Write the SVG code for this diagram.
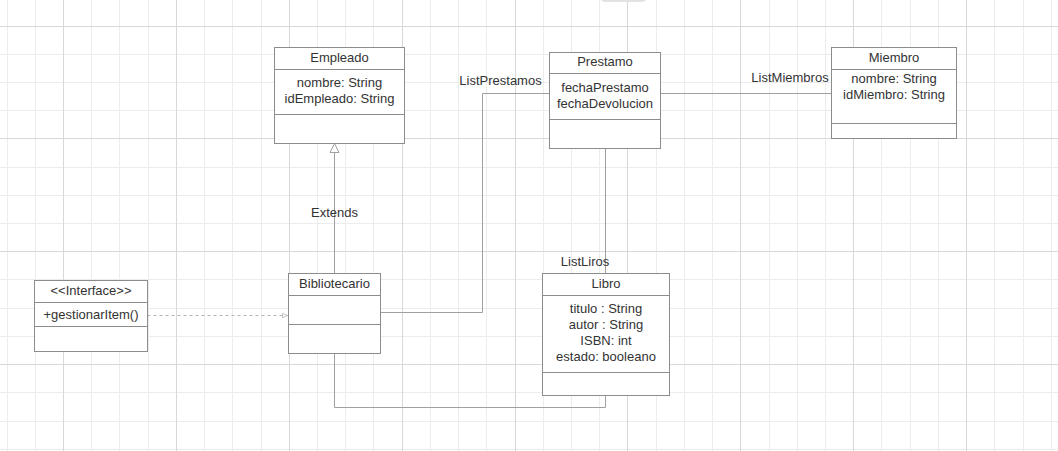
<svg xmlns="http://www.w3.org/2000/svg" width="1058" height="451" viewBox="0 0 1058 451">
<style>
.t{font-family:"Liberation Sans",Arial,Helvetica,sans-serif;font-size:13px;fill:#333333;text-anchor:middle}
.box{fill:#ffffff;stroke:#8c8c8c;stroke-width:1}
.sep{stroke:#8c8c8c;stroke-width:1;fill:none}
.con{fill:none;stroke:#a0a0a0;stroke-width:1}
.dash{fill:none;stroke:#b4b4b4;stroke-width:1;stroke-dasharray:3 3}
.gmin{stroke:#ececec;stroke-width:1;fill:none}
.gmaj{stroke:#d8d8d8;stroke-width:1;fill:none}
</style>
<defs>
<marker id="openArrow" viewBox="0 0 6 6" refX="6" refY="3" markerWidth="6" markerHeight="6" markerUnits="userSpaceOnUse" orient="auto">
<path d="M0.5,0.8 L5.5,3 L0.5,5.2 Z" fill="#ffffff" stroke="#b4b4b4" stroke-width="0.8"/>
</marker>
</defs>
<rect width="1058" height="451" fill="#ffffff"/>
<g id="grid" shape-rendering="crispEdges">
<path class="gmin" d="M7.1 0V451M35.32 0V451M91.76 0V451M119.98 0V451M148.2 0V451M204.64 0V451M232.86 0V451M261.08 0V451M317.52 0V451M345.74 0V451M373.96 0V451M430.4 0V451M458.62 0V451M486.84 0V451M543.28 0V451M571.5 0V451M599.72 0V451M656.16 0V451M684.38 0V451M712.6 0V451M769.04 0V451M797.26 0V451M825.48 0V451M881.92 0V451M910.14 0V451M938.36 0V451M994.8 0V451M1023.02 0V451M1051.24 0V451M0 54.22H1058M0 82.44H1058M0 110.66H1058M0 167.1H1058M0 195.32H1058M0 223.54H1058M0 279.98H1058M0 308.2H1058M0 336.42H1058M0 392.86H1058M0 421.08H1058M0 449.3H1058"/>
<path class="gmaj" d="M63.54 0V451M176.42 0V451M289.3 0V451M402.18 0V451M515.06 0V451M627.94 0V451M740.82 0V451M853.7 0V451M966.58 0V451M0 26H1058M0 138.88H1058M0 251.76H1058M0 364.64H1058"/>
</g>
<rect x="601" y="-6" width="45" height="8" rx="4" fill="#e2e2e2"/>
<g id="connectors">
<path id="extends" class="con" d="M334.5 273.5V152.5"/>
<polygon points="334.5,143.5 339,152.5 330,152.5" fill="#ffffff" stroke="#a0a0a0" stroke-width="1"/>
<text class="t" x="334.5" y="217">Extends</text>
<path id="realiza" class="dash" d="M147.5 315.5H288" marker-end="url(#openArrow)"/>
<path id="listPrestamos" class="con" d="M380.5 312.5H482.5V93.5H549.5"/>
<text class="t" x="500.5" y="85">ListPrestamos</text>
<path id="listMiembros" class="con" d="M660.5 93.5H831.5"/>
<text class="t" x="790" y="82">ListMiembros</text>
<path id="listLibros" class="con" d="M605.5 148.5V273.5"/>
<text class="t" x="585" y="266">ListLiros</text>
<path id="bibLibro" class="con" d="M334.5 353.5V407.5H605.5V395.5"/>
</g>
<g id="Empleado">
<rect class="box" x="274.5" y="47.5" width="130" height="96"/>
<path class="sep" d="M274.5 69.5H404.5M274.5 114.5H404.5"/>
<text class="t" x="339.5" y="62">Empleado</text>
<text class="t" x="339.5" y="87">nombre: String</text>
<text class="t" x="339.5" y="103">idEmpleado: String</text>
</g>
<g id="Prestamo">
<rect class="box" x="549.5" y="52.5" width="111" height="96"/>
<path class="sep" d="M549.5 73.5H660.5M549.5 119.5H660.5"/>
<text class="t" x="605" y="66">Prestamo</text>
<text class="t" x="605" y="91.5">fechaPrestamo</text>
<text class="t" x="605" y="107.5">fechaDevolucion</text>
</g>
<g id="Miembro">
<rect class="box" x="831.5" y="47.5" width="125" height="91"/>
<path class="sep" d="M831.5 69.5H956.5M831.5 123.5H956.5"/>
<text class="t" x="894" y="62">Miembro</text>
<text class="t" x="894" y="83">nombre: String</text>
<text class="t" x="894" y="99">idMiembro: String</text>
</g>
<g id="Interface">
<rect class="box" x="34.5" y="280.5" width="113" height="71"/>
<path class="sep" d="M34.5 302.5H147.5M34.5 326.5H147.5"/>
<text class="t" x="91" y="295">&lt;&lt;Interface&gt;&gt;</text>
<text class="t" x="91" y="319">+gestionarItem()</text>
</g>
<g id="Bibliotecario">
<rect class="box" x="288.5" y="273.5" width="92" height="80"/>
<path class="sep" d="M288.5 295.5H380.5M288.5 324.5H380.5"/>
<text class="t" x="334.5" y="288">Bibliotecario</text>
</g>
<g id="Libro">
<rect class="box" x="542.5" y="273.5" width="127" height="122"/>
<path class="sep" d="M542.5 295.5H669.5M542.5 372.5H669.5"/>
<text class="t" x="606" y="287.5">Libro</text>
<text class="t" x="606" y="313">titulo : String</text>
<text class="t" x="606" y="329">autor : String</text>
<text class="t" x="606" y="345">ISBN: int</text>
<text class="t" x="606" y="361">estado: booleano</text>
</g>
</svg>
